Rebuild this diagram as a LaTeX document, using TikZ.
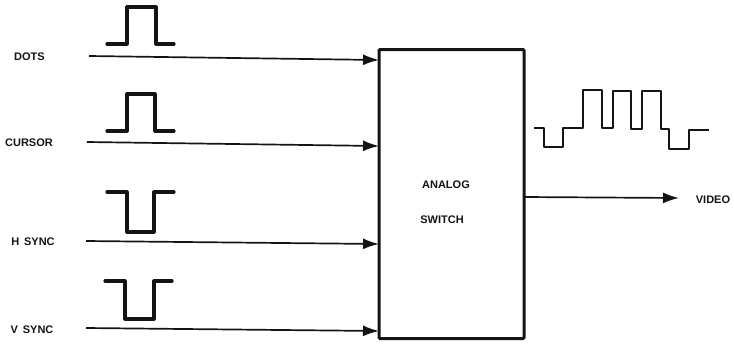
\documentclass[tikz,border=0pt]{standalone}
\usepackage{fontspec}
\setmainfont{Liberation Sans}
\usetikzlibrary{arrows.meta}
\definecolor{ink}{gray}{0.08}
\tikzset{
  lbl/.style={inner sep=0pt,font=\fontsize{11}{13}\selectfont\bfseries,text=ink},
  sig/.style={draw=ink,line width=1.7pt,-{Latex[length=16pt,width=11pt]}},
  wave/.style={draw=ink,line width=3.2pt,line cap=round,line join=round},
  vwave/.style={draw=ink,line width=2pt,line join=round},
  blockbox/.style={draw=ink,line width=3pt,fill=white,inner sep=0pt,outer sep=0pt,minimum width=145pt,minimum height=289pt,rounded corners=1pt}
}
\begin{document}
\begin{tikzpicture}[x=1pt,y=-1pt]
\useasboundingbox (0,0) rectangle (734,346);
\node[blockbox] (sw) at (451.5,194) {};
\node[lbl] (analog) at (446,185) {ANALOG};
\node[lbl] (switch) at (442,220) {SWITCH};
\node[lbl] (dots) at (29.5,57) {DOTS};
\node[lbl] (cursor) at (29,143) {CURSOR};
\node[lbl] (hsync) at (33,242) {H\, SYNC};
\node[lbl] (vsync) at (32,330) {V\, SYNC};
\node[lbl] (video) at (713,200) {VIDEO};
\coordinate (d0) at (89,56);
\coordinate (c0) at (87,142);
\coordinate (h0) at (86,241);
\coordinate (v0) at (86,328);
\coordinate (o0) at (sw.east |- 0,197);
\coordinate (o1) at (679,198);
\draw[sig] (d0) -- (sw.west |- 0,60);
\draw[sig] (c0) -- (sw.west |- 0,146);
\draw[sig] (h0) -- (sw.west |- 0,244);
\draw[sig] (v0) -- (sw.west |- 0,331);
\draw[sig] (o0) -- (o1);
\draw[wave] (107,44) -- (127,44) -- (127,7) -- (156,7) -- (156,44) -- (174,44);
\draw[wave] (107,131) -- (127,131) -- (127,94) -- (155,94) -- (155,131) -- (174,131);
\draw[wave] (107,192) -- (127,192) -- (127,232) -- (154,232) -- (154,192) -- (174,192);
\draw[wave] (105,281) -- (125,281) -- (125,319) -- (154,319) -- (154,281) -- (172,281);
\draw[vwave] (534,128) -- (544,128) -- (544,147) -- (563,147) -- (563,128) -- (583,128) -- (583,90) -- (602,90) -- (602,128) -- (613,128) -- (613,91) -- (631,91) -- (631,129) -- (642,129) -- (642,91) -- (661,91) -- (661,129) -- (669,129) -- (669,149) -- (689,149) -- (689,130) -- (709,130);
\end{tikzpicture}
\end{document}
